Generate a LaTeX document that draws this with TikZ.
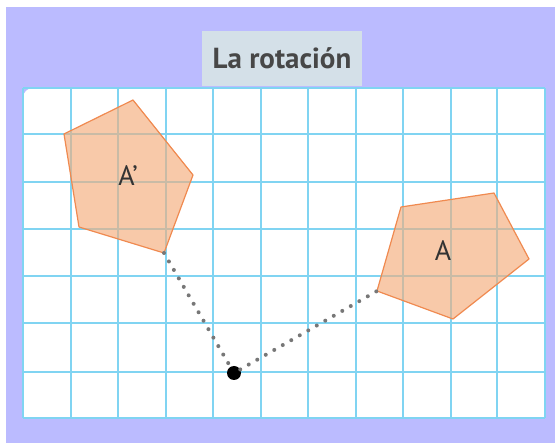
\documentclass[tikz,border=0pt]{standalone}
\usepackage{fontspec}
\setmainfont{PT Sans}
\definecolor{lav}{HTML}{BBBBFF}
\definecolor{titlebg}{HTML}{D4E0E8}
\definecolor{gridblue}{HTML}{80D4F2}
\definecolor{peach}{HTML}{F8C9A9}
\definecolor{gridpeach}{HTML}{C9BBA6}
\definecolor{pedge}{HTML}{F08A50}
\definecolor{txt}{HTML}{333333}
\definecolor{dotgray}{HTML}{777777}
\newcommand\mygridlines[1]{%
  \foreach \x in {23,71,118,166,213,261,308,356,403,451,497,545} \draw[gridline,draw=#1] (\x,88) -- (\x,418);
  \foreach \y in {88,134,182,229,276,323,372,418} \draw[gridline,draw=#1] (23,\y) -- (545,\y);}
\begin{document}
\begin{tikzpicture}[x=1pt,y=-1pt,
  gridline/.style={line width=2pt},
  polyfill/.style={fill=peach},
  polyedge/.style={draw=pedge,line width=1.2pt,line join=round},
  lbl/.style={text=txt,font=\fontsize{28}{28}\selectfont,inner sep=0pt},
  dotline/.style={draw=dotgray,line width=4pt,line cap=round,dash pattern=on 0pt off 9.8pt},
  titlebox/.style={fill=titlebg,minimum width=160pt,minimum height=55pt,inner sep=0pt,text=txt!90,font=\fontsize{29}{29}\selectfont\bfseries}]
\useasboundingbox (0,0) rectangle (555,443);
\fill[lav] (6,7) rectangle (555,443);
\fill[white] (545,418) -- (23,418) [rounded corners=10pt] -- (23,88) [sharp corners] -- (545,88) -- cycle;
\mygridlines{gridblue}
\node[titlebox] (title) at (282,58.5) {La rotación};
% A'
\coordinate (p1) at (64,134);
\coordinate (p2) at (133,100);
\coordinate (p3) at (193,175);
\coordinate (p4) at (164,253);
\coordinate (p5) at (79,227);
% A
\coordinate (q1) at (401,207);
\coordinate (q2) at (494,193);
\coordinate (q3) at (529,259);
\coordinate (q4) at (453,319);
\coordinate (q5) at (377,291);
\fill[polyfill] (p1) -- (p2) -- (p3) -- (p4) -- (p5) -- cycle;
\fill[polyfill] (q1) -- (q2) -- (q3) -- (q4) -- (q5) -- cycle;
\begin{scope}
  \clip (p1) -- (p2) -- (p3) -- (p4) -- (p5) -- cycle;
  \mygridlines{gridpeach}
\end{scope}
\begin{scope}
  \clip (q1) -- (q2) -- (q3) -- (q4) -- (q5) -- cycle;
  \mygridlines{gridpeach}
\end{scope}
\draw[polyedge] (p1) -- (p2) -- (p3) -- (p4) -- (p5) -- cycle;
\draw[polyedge] (q1) -- (q2) -- (q3) -- (q4) -- (q5) -- cycle;
\node[lbl] (Aprime) at (128,176) {A’};
\node[lbl] (A) at (443,251) {A};
\node[circle,fill=black,inner sep=0pt,minimum size=14pt] (O) at (234,373) {};
\draw[dotline] (p4) -- (O);
\draw[dotline] (O) -- (q5);
\end{tikzpicture}
\end{document}
